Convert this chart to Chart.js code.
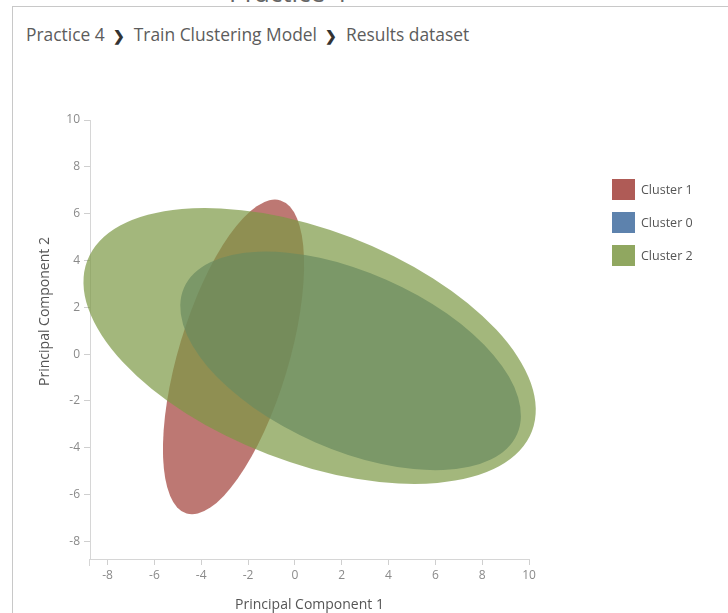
<!DOCTYPE html>
<html>
<head>
<meta charset="utf-8">
<script src="https://cdn.jsdelivr.net/npm/chart.js@4.4.0/dist/chart.umd.min.js"></script>
<style>
html,body{margin:0;padding:0;width:728px;height:613px;overflow:hidden;background:#fff;font-family:"Open Sans","Noto Sans",sans-serif;}
#frameTop{position:absolute;left:12px;top:6px;width:716px;height:1px;background:#c8c8c8;}
#frameLeft{position:absolute;left:12px;top:6px;width:1px;height:607px;background:#c8c8c8;}
#ghost{position:absolute;left:229px;top:-23px;font-size:26px;line-height:30px;color:#666;white-space:nowrap;}
#crumb{position:absolute;left:26px;top:22px;font-size:17.4px;line-height:24px;color:#5c5c5c;white-space:nowrap;}
#crumb .sep{font-weight:700;color:#333;font-size:14px;margin:0 9px 0 8px;}
#chartWrap{position:absolute;left:0;top:0;width:728px;height:613px;}
#legend{position:absolute;left:612px;top:179px;}
#legend .row{height:33px;display:flex;align-items:flex-start;}
#legend .sw{width:23px;height:21px;}
#legend .lb{margin-left:6px;font-size:12.5px;line-height:22px;color:#555;}
</style>
</head>
<body>
<div id="ghost">Practice 4</div>
<div id="frameTop"></div>
<div id="frameLeft"></div>
<div id="crumb"></div>
<div id="chartWrap"><canvas id="c"></canvas></div>
<div id="legend"></div>
<script>
// ---- data ----
const breadcrumb = ['Practice 4', 'Train Clustering Model', 'Results dataset'];
const clusterLabels = ['Cluster 1', 'Cluster 0', 'Cluster 2'];
const clusterColors = ['161,62,56', '65,108,159', '124,152,68'];
// ellipse description in data units
const centerX   = [-2.62,  2.38,  0.63];
const centerY   = [-0.12, -0.29,  0.35];
const semiMajor = [ 6.98,  7.77, 10.17];
const semiMinor = [ 2.35,  3.79,  4.96];
const angleDeg  = [ 73.3, -23.7, -21.0];
const xTicks = [-8, -6, -4, -2, 0, 2, 4, 6, 8, 10];
const yTicks = [-8, -6, -4, -2, 0, 2, 4, 6, 8, 10];
const axisMin = -8.75, axisMax = 10;
const xTitle = 'Principal Component 1';
const yTitle = 'Principal Component 2';

// breadcrumb
document.getElementById('crumb').innerHTML = breadcrumb.map(t => '<span>' + t + '</span>').join('<span class="sep">&#x276F;</span>');

// legend
document.getElementById('legend').innerHTML = clusterLabels.map((l, i) =>
  '<div class="row"><div class="sw" style="background:rgba(' + clusterColors[i] + ',0.85)"></div><div class="lb">' + l + '</div></div>').join('');

const ellipsePlugin = {
  id: 'ellipses',
  beforeDatasetsDraw(chart) {
    const ctx = chart.ctx, xs = chart.scales.x, ys = chart.scales.y;
    const kx = xs.getPixelForValue(1) - xs.getPixelForValue(0);
    const ky = ys.getPixelForValue(0) - ys.getPixelForValue(1);
    chart.data.datasets.forEach((ds, i) => {
      const cx = xs.getPixelForValue(centerX[i]);
      const cy = ys.getPixelForValue(centerY[i]);
      ctx.save();
      ctx.translate(cx, cy);
      ctx.scale(kx, -ky);
      ctx.rotate(angleDeg[i] * Math.PI / 180);
      ctx.beginPath();
      ctx.ellipse(0, 0, semiMajor[i], semiMinor[i], 0, 0, Math.PI * 2);
      ctx.restore();
      ctx.fillStyle = 'rgba(' + clusterColors[i] + ',0.7)';
      ctx.fill();
    });
  },
  afterDraw(chart) {
    const ctx = chart.ctx, xs = chart.scales.x, ys = chart.scales.y;
    ctx.save();
    // y axis line continues slightly below the x axis
    ctx.strokeStyle = '#d6d6d6';
    ctx.lineWidth = 1;
    ctx.beginPath();
    ctx.moveTo(ys.right - 0.5, ys.bottom);
    ctx.lineTo(ys.right - 0.5, ys.bottom + 7);
    ctx.stroke();
    ctx.fillStyle = '#555';
    ctx.font = '14px "Open Sans", "Noto Sans", sans-serif';
    ctx.textAlign = 'center';
    ctx.textBaseline = 'alphabetic';
    ctx.fillText(xTitle, (xs.left + xs.right) / 2, xs.bottom - 4);
    ctx.translate(ys.left + 49, (ys.top + ys.bottom) / 2 - 28);
    ctx.rotate(-Math.PI / 2);
    ctx.fillText(yTitle, 0, 0);
    ctx.restore();
  }
};

const axisCommon = {
  type: 'linear',
  min: axisMin,
  max: axisMax,
  grid: { drawOnChartArea: false, drawTicks: true, tickLength: 6, color: '#cfcfcf' },
  border: { color: '#d6d6d6', width: 1 },
  ticks: { color: '#8a8a8a', font: { size: 12, family: '"Open Sans", "Noto Sans", sans-serif' } }
};

new Chart(document.getElementById('c'), {
  type: 'scatter',
  data: {
    datasets: clusterLabels.map((l, i) => ({
      label: l,
      data: [{ x: centerX[i], y: centerY[i] }],
      pointRadius: 0,
      backgroundColor: 'rgba(' + clusterColors[i] + ',0.7)'
    }))
  },
  options: {
    responsive: true,
    maintainAspectRatio: false,
    animation: false,
    layout: { padding: { left: 0, top: 120, right: 199, bottom: 0 } },
    plugins: { legend: { display: false }, tooltip: { enabled: false } },
    scales: {
      x: Object.assign({}, axisCommon, {
        ticks: Object.assign({}, axisCommon.ticks, { padding: 3 }),
        afterBuildTicks: s => { s.ticks = xTicks.map(v => ({ value: v })); },
        afterFit: s => { s.height = 54; }
      }),
      y: Object.assign({}, axisCommon, {
        ticks: Object.assign({}, axisCommon.ticks, { padding: 4 }),
        afterBuildTicks: s => { s.ticks = yTicks.map(v => ({ value: v })); },
        afterFit: s => { s.width = 90; }
      })
    }
  },
  plugins: [ellipsePlugin]
});
</script>
</body>
</html>
